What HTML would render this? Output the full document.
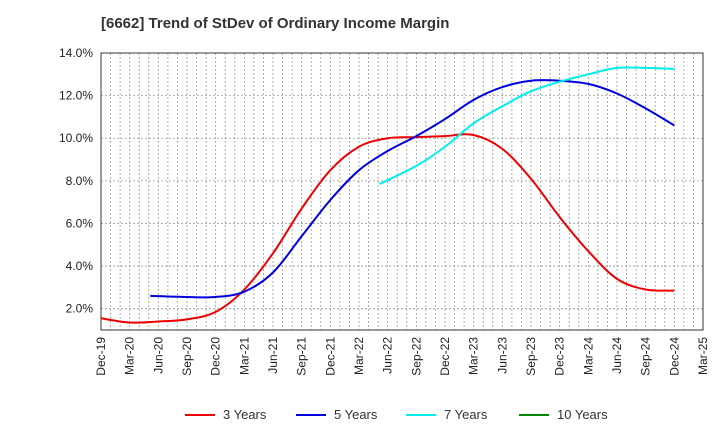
<!DOCTYPE html>
<html><head><meta charset="utf-8"><style>
body{margin:0;background:#fff;font-family:"Liberation Sans",Arial,sans-serif}
</style></head><body>
<svg id="c" width="720" height="440" xmlns="http://www.w3.org/2000/svg" font-family="Liberation Sans, Arial, sans-serif">
<text x="101" y="28" font-size="15" font-weight="bold" fill="#333">[6662]  Trend of StDev of Ordinary Income Margin</text>
</svg>
<script>
const xLabels=["Dec-19","Mar-20","Jun-20","Sep-20","Dec-20","Mar-21","Jun-21","Sep-21","Dec-21","Mar-22","Jun-22","Sep-22","Dec-22","Mar-23","Jun-23","Sep-23","Dec-23","Mar-24","Jun-24","Sep-24","Dec-24","Mar-25"];
const yTicks=[2,4,6,8,10,12,14];
const s3=[1.55,1.35,1.4,1.5,1.85,2.9,4.6,6.7,8.5,9.6,10.0,10.05,10.1,10.15,9.5,8.1,6.3,4.7,3.4,2.9,2.85];
const s5=[null,null,2.6,2.55,2.55,2.8,3.7,5.4,7.1,8.5,9.4,10.1,10.9,11.8,12.4,12.7,12.7,12.55,12.1,11.4,10.6];
const s7=[null,null,null,null,null,null,null,null,null,null,7.85,8.7,9.6,10.7,11.5,12.2,12.65,13.0,13.3,13.3,13.25];
const s10=[];
const L=101,R=703,T=53,B=330,yMin=1.0,yMax=14.0;
const X=i=>L+i*(R-L)/21;
const Y=v=>B-(v-yMin)/(yMax-yMin)*(B-T);
const svg=document.getElementById('c');const NS="http://www.w3.org/2000/svg";
function mk(t,a,p){const e=document.createElementNS(NS,t);for(const k in a)e.setAttribute(k,a[k]);(p||svg).appendChild(e);return e;}
const g=mk('g',{});


for(let m=1;m<63;m++){const x=L+m*(R-L)/63;mk('line',{x1:x,x2:x,y1:T,y2:B,stroke:'#999','stroke-width':0.8,'stroke-dasharray':'2,2'},g);}
yTicks.forEach(v=>{const y=Y(v);mk('line',{x1:L,x2:R,y1:y,y2:y,stroke:'#999','stroke-width':0.8,'stroke-dasharray':'2,2'},g);
const t=mk('text',{x:L-8,y:y+4,'text-anchor':'end','font-size':12,fill:'#222'});t.textContent=v.toFixed(1)+'%';

});
const fr=mk('rect',{x:L,y:T,width:R-L,height:B-T,fill:'none',stroke:'#333','stroke-width':1});


xLabels.forEach((l,i)=>{const x=X(i);const t=mk('text',{x:0,y:0,'text-anchor':'end','font-size':12,fill:'#222',transform:`translate(${x+4},${B+7}) rotate(-90)`});t.textContent=l;

});
function path(d){const p=[];let first=true;d.forEach((v,i)=>{if(v!=null){p.push([first&&i>0?X(i)-(R-L)/63*0.85:X(i),Y(v)]);first=false;}});if(p.length<2)return '';
let s=`M${p[0][0]},${p[0][1]}`;for(let i=0;i<p.length-1;i++){const p0=p[i-1]||p[i],p1=p[i],p2=p[i+1],p3=p[i+2]||p2;
s+=` C${p1[0]+(p2[0]-p0[0])/6},${p1[1]+(p2[1]-p0[1])/6} ${p2[0]-(p3[0]-p1[0])/6},${p2[1]-(p3[1]-p1[1])/6} ${p2[0]},${p2[1]}`;}return s;}
const series=[[s3,'#ee0000','3 Years',185],[s5,'#0000dd','5 Years',296],[s7,'#00eeee','7 Years',406],[s10,'#008800','10 Years',519]];
series.forEach(([d,c,n,lx])=>{const ps=path(d);if(ps){const p=mk('path',{d:ps,fill:'none',stroke:c,'stroke-width':2});

}
const lg=mk('g',{});


mk('line',{x1:lx,x2:lx+30,y1:415,y2:415,stroke:c,'stroke-width':2},lg);
const t=mk('text',{x:lx+38,y:419,'font-size':13,fill:'#333'},lg);t.textContent=n;});
</script>
</body></html>
